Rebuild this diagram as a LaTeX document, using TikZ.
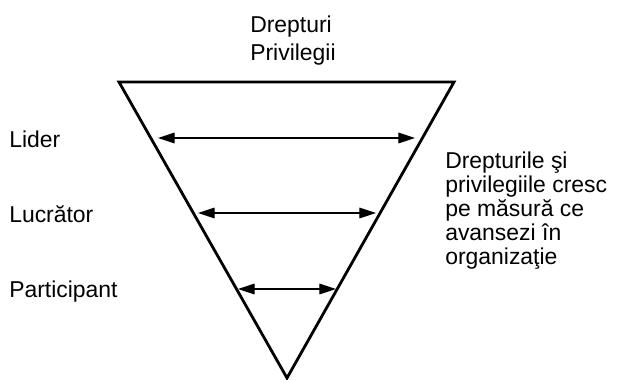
\documentclass[tikz,border=0pt]{standalone}
\usepackage{fontspec}
\setmainfont{Liberation Sans}
\usetikzlibrary{arrows.meta}
\begin{document}
\begin{tikzpicture}[x=0.75pt,y=-0.75pt,
  lbl/.style={font=\fontsize{17.2}{18}\selectfont, inner sep=0pt, anchor=base west},
  edge/.style={line width=2.1pt, line join=miter},
  span/.style={line width=0.8pt, {Triangle[length=12.5pt,width=8pt]}-{Triangle[length=12.5pt,width=8pt]}}]
\useasboundingbox (0,0) rectangle (623,379);
% inverted triangle
\coordinate (tl) at (119,82);
\coordinate (tr) at (454,82);
\coordinate (ap) at (287,378);
\draw[edge] (tl) -- (tr) -- (ap) -- cycle;
% level widths
\coordinate (l1a) at (158,138); \coordinate (l1b) at (415,138);
\coordinate (l2a) at (198,213); \coordinate (l2b) at (376,213);
\coordinate (l3a) at (238,289); \coordinate (l3b) at (336,289);
\draw[span] (l1a) -- (l1b);
\draw[span] (l2a) -- (l2b);
\draw[span] (l3a) -- (l3b);
% headings and labels
\node[lbl] (t1) at (250,32) {Drepturi};
\node[lbl] (t2) at (250,60) {Privilegii};
\node[lbl] (lider) at (9,147) {Lider};
\node[lbl] (lucr) at (9,222) {Lucrător};
\node[lbl] (part) at (9,297) {Participant};
\node[lbl] (r1) at (445,168) {Drepturile şi};
\node[lbl] (r2) at (445,192) {privilegiile cresc};
\node[lbl] (r3) at (445,216) {pe măsură ce};
\node[lbl] (r4) at (445,240) {avansezi în};
\node[lbl] (r5) at (445,264) {organizaţie};
\end{tikzpicture}
\end{document}
